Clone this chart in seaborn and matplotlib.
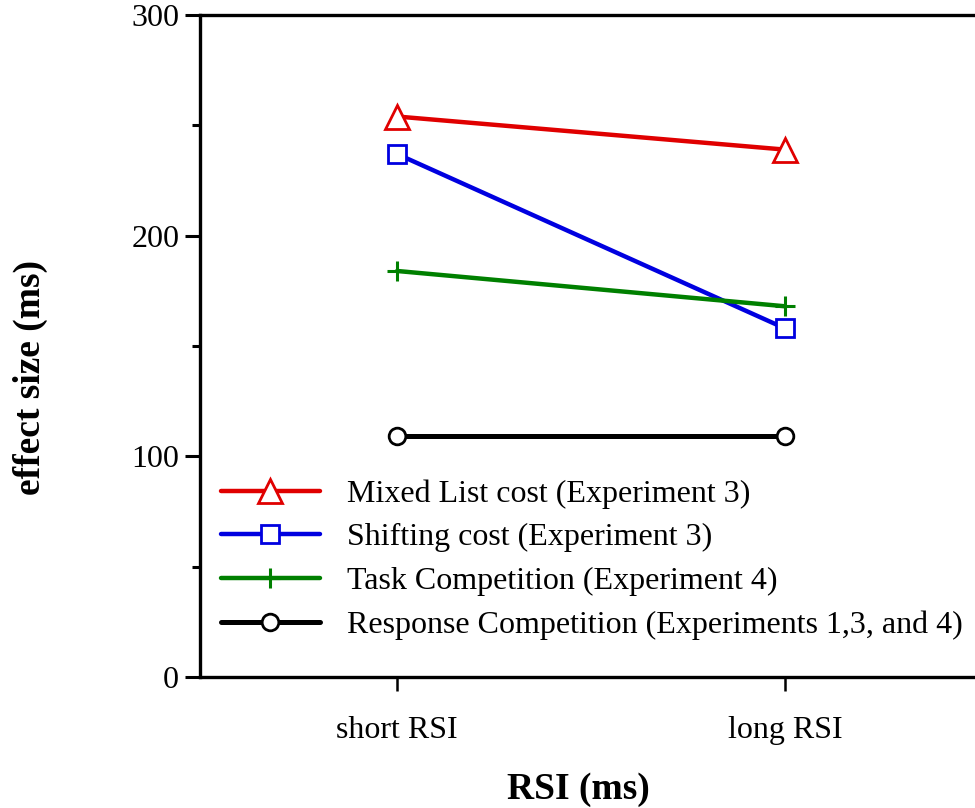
import matplotlib
matplotlib.use("Agg")
import matplotlib.pyplot as plt
from matplotlib.ticker import MultipleLocator
import seaborn as sns
import pandas as pd

# Data
conditions = ["short RSI", "long RSI"]
series_names = [
    "Mixed List cost (Experiment 3)",
    "Shifting cost (Experiment 3)",
    "Task Competition (Experiment 4)",
    "Response Competition (Experiments 1,3, and 4)",
]
mixed_list = [254, 239]
shifting = [237, 158]
task_comp = [184, 168]
response_comp = [109, 109]

values = [mixed_list, shifting, task_comp, response_comp]
rows = []
for name, vals in zip(series_names, values):
    for i, (cond, v) in enumerate(zip(conditions, vals)):
        rows.append({"series": name, "pos": i, "RSI": cond, "effect": v})
df = pd.DataFrame(rows)

colors = ["#e00000", "#0000e0", "#008000", "#000000"]
markers = ["^", "s", "+", "o"]
msizes = [17, 13, 14, 12]
lwidths = [3.2, 3.2, 3.2, 3.6]

sns.set_style("white")
plt.rcParams["font.family"] = ["Liberation Serif", "DejaVu Serif"]
plt.rcParams["text.color"] = "black"
plt.rcParams["axes.labelcolor"] = "black"
plt.rcParams["xtick.color"] = "black"
plt.rcParams["ytick.color"] = "black"

fig = plt.figure(figsize=(9.75, 8.08), dpi=100)
ax = fig.add_axes([200 / 975, (808 - 677) / 808, 1 - 200 / 975, (677 - 15) / 808])

for name, col, mk, ms, lw in zip(series_names, colors, markers, msizes, lwidths):
    sub = df[df["series"] == name]
    sns.lineplot(
        data=sub, x="pos", y="effect", ax=ax, color=col, linewidth=lw,
        marker=mk, markersize=ms, markerfacecolor="white" if mk != "+" else col,
        markeredgecolor=col, markeredgewidth=2.0 if mk != "+" else 2.2,
        label=name, legend=False, estimator=None,
    )

ax.set_xlim(-0.508, 1.49)
ax.set_ylim(0, 300)
ax.set_xticks(range(len(conditions)))
ax.set_xticklabels(conditions, fontsize=23)
ax.yaxis.set_major_locator(MultipleLocator(100))
ax.yaxis.set_minor_locator(MultipleLocator(50))
ax.tick_params(axis="y", which="major", direction="out", length=11, width=2.2,
               labelsize=23, left=True, pad=4)
ax.tick_params(axis="y", which="minor", direction="out", length=6, width=2.2, left=True)
ax.tick_params(axis="x", which="major", direction="out", length=10, width=1.8,
               bottom=True, pad=18)

for side in ["left", "bottom", "top"]:
    ax.spines[side].set_linewidth(2.4)
    ax.spines[side].set_color("black")
ax.spines["right"].set_visible(False)

ax.set_xlabel("RSI (ms)", fontsize=27, fontweight="bold")
ax.set_ylabel("effect size (ms)", fontsize=27, fontweight="bold")
ax.xaxis.set_label_coords(0.488, -0.143)
ax.yaxis.set_label_coords(-0.196, 0.453)

leg = ax.legend(
    loc="upper left", bbox_to_anchor=(0.010, 0.318), frameon=False,
    fontsize=23, handlelength=3.1, handletextpad=0.85, labelspacing=0.45,
    borderaxespad=0,
)

fig.savefig("out.png", dpi=100, facecolor="white")
